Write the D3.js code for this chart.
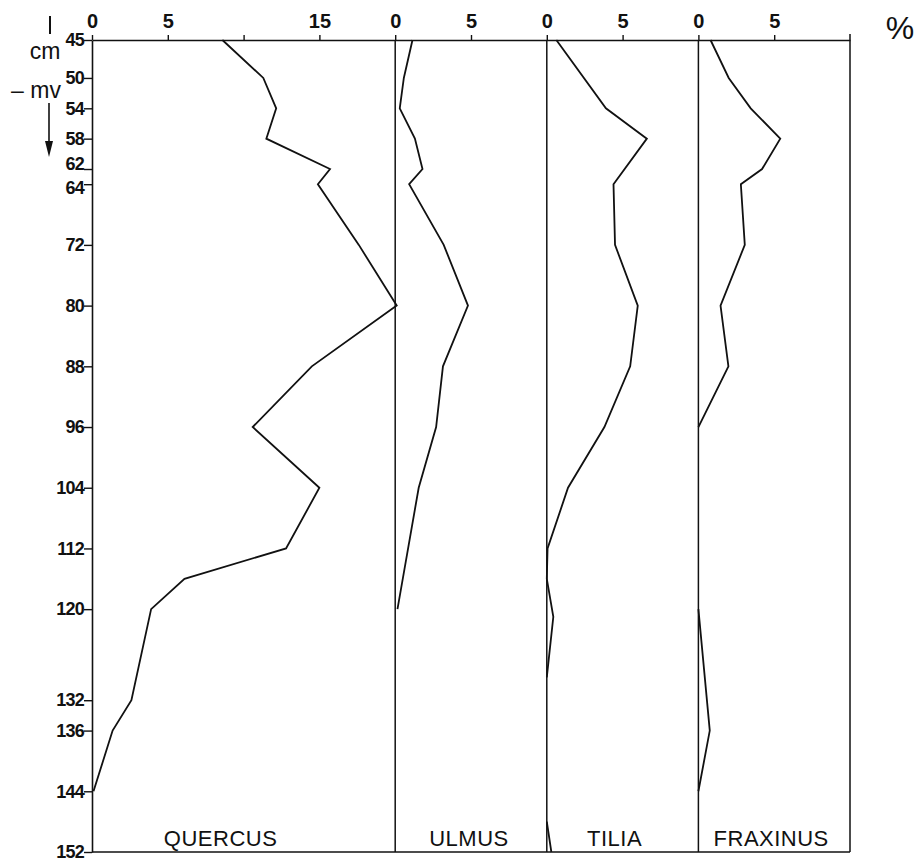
<!DOCTYPE html>
<html>
<head>
<meta charset="utf-8">
<script src="https://cdn.jsdelivr.net/npm/d3@7"></script>
<style>
  body { margin: 0; background: #fff; }
  svg { display: block; }
  .num { font-family: "Liberation Sans Narrow", "Liberation Sans", Arial, sans-serif; font-weight: bold; fill: #111; }
  .lbl { font-family: "Liberation Sans", Arial, sans-serif; fill: #111; }
</style>
</head>
<body>
<div id="chart"></div>
<script>
// depth ticks (cm below surface) and taxa
const depthTicks = [45, 50, 54, 58, 62, 64, 72, 80, 88, 96, 104, 112, 120, 132, 136, 144, 152];
const taxa = ["QUERCUS", "ULMUS", "TILIA", "FRAXINUS"];
const panelStart = [0, 20, 30, 40];   // % offset of each panel on the shared scale
const panelWidth = [20, 10, 10, 10];
const topTicks = [[0, 5, 10, 15], [0, 5], [0, 5], [0, 5]];
const topLabels = [["0", "5", "", "15"], ["0", "5"], ["0", "5"], ["0", "5"]];

// pollen percentages (null = break in the curve)
const quercusDepth = [45, 50, 54, 58, 62, 64, 72, 80, 88, 96, 104, 112, 116, 120, 132, 136, 144];
const quercusPct   = [8.6, 11.3, 12.15, 11.5, 15.7, 14.9, 17.6, 20.1, 14.5, 10.6, 15.0, 12.8, 6.1, 3.9, 2.6, 1.36, 0.1];

const ulmusDepth = [45, 50, 54, 58, 62, 64, 72, 80, 88, 96, 104, 120];
const ulmusPct   = [1.14, 0.57, 0.3, 1.3, 1.8, 0.92, 3.2, 4.8, 3.15, 2.7, 1.55, 0.15];

const tiliaDepth = [45, 54, 58, 64, 72, 80, 88, 96, 104, 112, 116, 121, 129, null, 148, 152];
const tiliaPct   = [0.63, 3.9, 6.6, 4.4, 4.5, 6.0, 5.5, 3.8, 1.4, 0.05, 0, 0.43, 0, null, 0, 0.3];

const fraxinusDepth = [45, 50, 54, 58, 62, 64, 72, 80, 88, 96, null, 120, 136, 144];
const fraxinusPct   = [0.8, 2.0, 3.45, 5.4, 4.2, 2.8, 3.06, 1.46, 1.98, 0, null, 0, 0.75, 0];

const series = [
  [quercusDepth, quercusPct],
  [ulmusDepth, ulmusPct],
  [tiliaDepth, tiliaPct],
  [fraxinusDepth, fraxinusPct]
];

const width = 915, height = 863;

const svg = d3.select("#chart").append("svg")
  .attr("width", width)
  .attr("height", height);

const x = d3.scaleLinear().domain([0, 50]).range([92, 850]);
const y = d3.scaleLinear().domain([45, 152]).range([40, 852]);

// depth axis on the left
const yAxis = svg.append("g")
  .attr("transform", `translate(${x(0)},0)`)
  .call(d3.axisLeft(y).tickValues(depthTicks).tickSize(8).tickSizeOuter(0).tickPadding(0));
yAxis.select(".domain").attr("stroke", "#111").attr("stroke-width", 1.6);
yAxis.selectAll(".tick line").attr("stroke", "#111").attr("stroke-width", 1.4);
yAxis.selectAll(".tick text")
  .attr("class", "num")
  .style("font-size", "18px")
  .style("letter-spacing", "-0.8px")
  .attr("dy", d => d === 62 ? "0.05em" : d === 64 ? "0.5em" : "0.32em");

// top percentage axis
const topVals = [], topText = {};
panelStart.forEach((s, i) => {
  topTicks[i].forEach((t, j) => {
    topVals.push(s + t);
    topText[s + t] = topLabels[i][j];
  });
});
const xAxis = svg.append("g")
  .attr("transform", `translate(0,${y(45)})`)
  .call(d3.axisTop(x).tickValues(topVals).tickSize(5).tickSizeOuter(0).tickPadding(7)
    .tickFormat(v => topText[v]));
xAxis.select(".domain").attr("stroke", "#111").attr("stroke-width", 1.4);
xAxis.selectAll(".tick line").attr("stroke", "#111").attr("stroke-width", 1.4);
xAxis.selectAll(".tick text").attr("class", "num").style("font-size", "20px");

// panel separators, right border and bottom line
svg.append("g").selectAll("line")
  .data(panelStart.slice(1))
  .join("line")
  .attr("x1", d => x(d)).attr("x2", d => x(d))
  .attr("y1", y(45)).attr("y2", y(152))
  .attr("stroke", "#111").attr("stroke-width", 1.5);

svg.append("line")
  .attr("x1", x(50)).attr("x2", x(50))
  .attr("y1", y(45) - 6).attr("y2", y(152))
  .attr("stroke", "#111").attr("stroke-width", 1.5);

svg.append("line")
  .attr("x1", x(0)).attr("x2", x(50))
  .attr("y1", y(152)).attr("y2", y(152))
  .attr("stroke", "#111").attr("stroke-width", 1.5);

// curves
const line = d3.line()
  .defined(d => d.v != null)
  .x(d => d.x)
  .y(d => d.y);

series.forEach(([depth, pct], i) => {
  const pts = depth.map((dp, k) => ({
    v: pct[k],
    x: pct[k] == null ? 0 : x(panelStart[i] + pct[k]),
    y: dp == null ? 0 : y(dp)
  }));
  svg.append("path")
    .attr("d", line(pts))
    .attr("fill", "none")
    .attr("stroke", "#111")
    .attr("stroke-width", 1.8)
    .attr("stroke-linejoin", "miter");
});

// taxon names
svg.append("g").selectAll("text")
  .data(taxa)
  .join("text")
  .attr("class", "lbl")
  .attr("x", (d, i) => x(panelStart[i] + panelWidth[i] / 2) + [-23, -2, -8, -3][i])
  .attr("y", 846)
  .attr("text-anchor", "middle")
  .style("font-size", "22px")
  .style("letter-spacing", "0.5px")
  .text(d => d);

// depth unit and arrow
svg.append("line").attr("x1", 50).attr("x2", 50).attr("y1", 16).attr("y2", 34)
  .attr("stroke", "#111").attr("stroke-width", 2);
svg.append("text").attr("class", "lbl").attr("x", 45).attr("y", 59)
  .attr("text-anchor", "middle").style("font-size", "23px").text("cm");
svg.append("text").attr("class", "lbl").attr("x", 36).attr("y", 98)
  .attr("text-anchor", "middle").style("font-size", "23px").text("– mv");
svg.append("line").attr("x1", 49).attr("x2", 49).attr("y1", 103).attr("y2", 145)
  .attr("stroke", "#111").attr("stroke-width", 1.6);
svg.append("path").attr("d", "M45,141 L53,141 L49,157 Z").attr("fill", "#111");

svg.append("text").attr("class", "lbl").attr("x", 900).attr("y", 39)
  .attr("text-anchor", "middle").style("font-size", "32px").text("%");
</script>
</body>
</html>
